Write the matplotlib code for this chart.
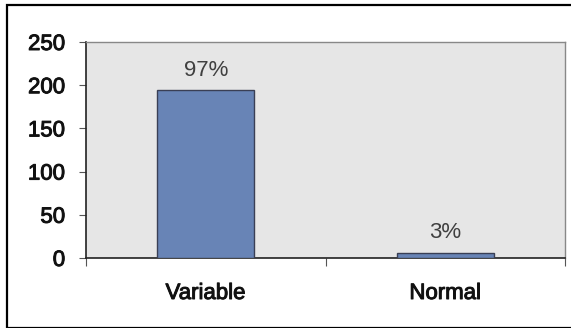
import matplotlib
matplotlib.use("Agg")
import matplotlib.pyplot as plt
import matplotlib.patheffects as pe
from matplotlib.patches import Rectangle

plt.rcParams['font.family'] = ['Liberation Sans', 'DejaVu Sans']

categories = ["Variable", "Normal"]
counts = [194, 6]
percent_labels = ["97%", "3%"]
y_ticks = [0, 50, 100, 150, 200, 250]

W, H = 571, 328
fig = plt.figure(figsize=(W / 100, H / 100), dpi=100)
fig.patch.set_facecolor("white")

# outer chart frame
fig.add_artist(Rectangle((7 / W, 0), 1.2, 1 - 5 / H, transform=fig.transFigure,
                         fill=False, edgecolor="black", linewidth=1.6))

ax = fig.add_axes([86 / W, 1 - 258 / H, (565 - 86) / W, (258 - 42) / H])
ax.set_facecolor("#e6e6e6")

x = list(range(len(categories)))
bars = ax.bar(x, counts, width=0.405, color="#6884b6", edgecolor="#3a3f55",
              linewidth=1.0, zorder=3)
for b, lab in zip(bars, percent_labels):
    ax.text(b.get_x() + b.get_width() / 2, b.get_height() + 11, lab,
            ha="center", va="bottom", fontsize=16, color="#404040")

ax.set_xlim(-0.5, len(categories) - 0.5)
ax.set_ylim(0, 250)
ax.set_yticks(y_ticks)
ax.set_yticklabels([str(v) for v in y_ticks], fontsize=16, color="#111111")
ax.set_xticks(x)
ax.set_xticklabels(categories, fontsize=16, color="#111111")
ax.tick_params(axis="x", length=0, pad=18)
ax.tick_params(axis="y", length=5, width=0.8, color="#555555", pad=10)
# category separators below the baseline
ax.set_xticks([-0.5, 0.5, 1.5], minor=True)
ax.tick_params(axis="x", which="minor", length=6, width=0.8, color="#555555")

heavy = [pe.withStroke(linewidth=0.7, foreground="#111111")]
for t in ax.get_xticklabels() + ax.get_yticklabels():
    t.set_path_effects(heavy)

for side in ["left", "bottom"]:
    ax.spines[side].set_color("#222222")
    ax.spines[side].set_linewidth(1.2)
for side in ["top", "right"]:
    ax.spines[side].set_color("#888888")
    ax.spines[side].set_linewidth(1.0)

fig.savefig("out.png", dpi=100)
